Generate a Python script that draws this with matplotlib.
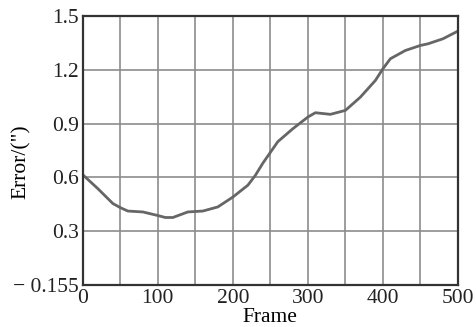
import matplotlib
matplotlib.use("Agg")
import matplotlib.pyplot as plt

# data
frame = [0, 20, 40, 50, 60, 80, 100, 110, 120, 140, 160, 180, 200, 220, 230,
         240, 260, 280, 300, 310, 330, 350, 370, 390, 400, 410, 430, 450, 460,
         480, 500]
error = [0.615, 0.538, 0.455, 0.432, 0.413, 0.408, 0.388, 0.377, 0.377, 0.408,
         0.413, 0.436, 0.491, 0.557, 0.612, 0.680, 0.800, 0.872, 0.937, 0.961,
         0.952, 0.974, 1.048, 1.141, 1.206, 1.262, 1.308, 1.336, 1.345, 1.373,
         1.416]
xticks = [0, 100, 200, 300, 400, 500]
yticks = [0, 0.3, 0.6, 0.9, 1.2, 1.5]
ytick_labels = ["\u2212 0.155", "0.3", "0.6", "0.9", "1.2", "1.5"]

plt.rcParams["font.family"] = ["Liberation Serif", "DejaVu Serif"]

fig = plt.figure(figsize=(4.76, 3.27), dpi=100)
ax = fig.add_axes([0.174, 0.128, 0.788, 0.823])

ax.plot(frame, error, color="#666666", linewidth=2.0)

ax.set_xlim(0, 500)
ax.set_ylim(0, 1.5)
ax.set_xticks(range(0, 501, 50))
ax.set_xticklabels([str(v) if v in xticks else "" for v in range(0, 501, 50)])
ax.set_yticks(yticks)
ax.set_yticklabels(ytick_labels)
ax.grid(True, color="#8c8c8c", linewidth=1.2)
ax.tick_params(length=0, labelsize=15.5, pad=3, colors="#222222")
for s in ax.spines.values():
    s.set_linewidth(1.6)
    s.set_color("#333333")

ax.set_xlabel("Frame", fontsize=15.5)
ax.set_ylabel('Error/(")', fontsize=15.5)
ax.xaxis.set_label_coords(0.5, -0.085)
ax.yaxis.set_label_coords(-0.139, 0.46)

fig.savefig("out.png", dpi=100)
